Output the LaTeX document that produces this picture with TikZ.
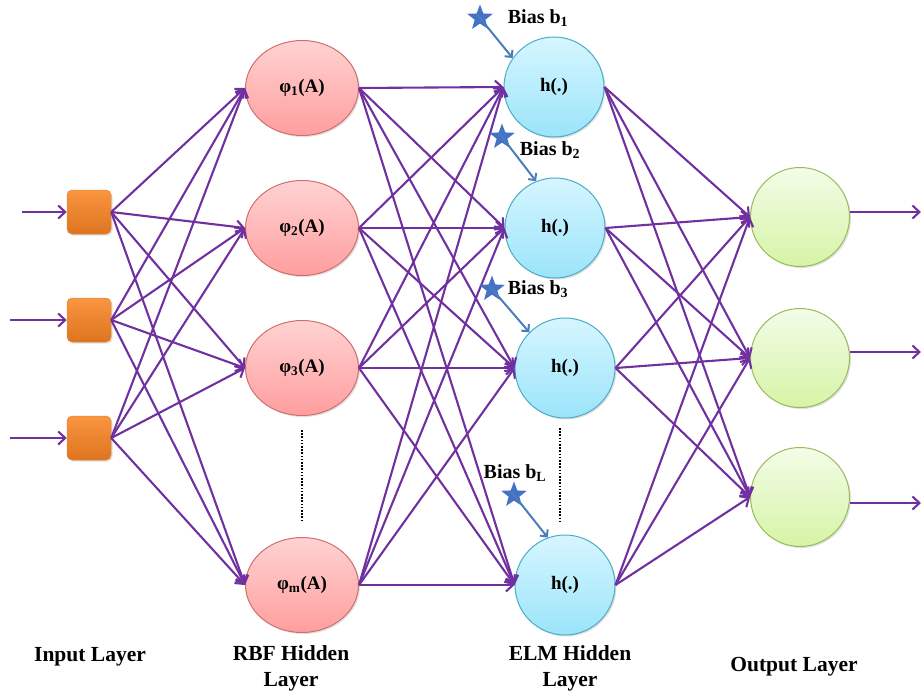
\documentclass[tikz,border=0pt]{standalone}
\usepackage{fontspec}
\setmainfont{Liberation Serif}
\usetikzlibrary{arrows.meta,shapes.geometric,shadows}
\definecolor{purp}{HTML}{7030A0}
\definecolor{orgT}{HTML}{FA9540}
\definecolor{orgB}{HTML}{DD7420}
\definecolor{orgD}{HTML}{E08A40}
\definecolor{pinkT}{HTML}{FFD2D2}
\definecolor{pinkB}{HTML}{FF9E9E}
\definecolor{pinkD}{HTML}{D0706E}
\definecolor{cyanT}{HTML}{D6F6FF}
\definecolor{cyanB}{HTML}{9BE4FA}
\definecolor{cyanD}{HTML}{4BACC6}
\definecolor{grnT}{HTML}{F3FCE8}
\definecolor{grnB}{HTML}{D6F4A6}
\definecolor{grnD}{HTML}{9BBB59}
\definecolor{starblue}{HTML}{4472C4}
\definecolor{biasblue}{HTML}{4A7EBB}
\begin{document}
\begin{tikzpicture}[x=1pt,y=-1pt,
  shd/.style={drop shadow={opacity=0.25,shadow xshift=1.5pt,shadow yshift=-1.5pt}},
  inp/.style={rectangle,rounded corners=5pt,minimum size=44pt,inner sep=0pt,
    top color=orgT,bottom color=orgB,draw=orgD,line width=0.5pt,shd},
  rbf/.style={ellipse,minimum width=113pt,minimum height=95pt,inner sep=0pt,
    top color=pinkT,bottom color=pinkB,draw=pinkD,line width=1pt,shd,
    font=\bfseries\fontsize{19}{19}\selectfont},
  elm/.style={circle,minimum size=100pt,inner sep=0pt,
    top color=cyanT,bottom color=cyanB,draw=cyanD,line width=1pt,shd,
    font=\bfseries\fontsize{19}{19}\selectfont},
  outn/.style={circle,minimum size=99pt,inner sep=0pt,
    top color=grnT,bottom color=grnB,draw=grnD,line width=1pt,shd},
  conn/.style={draw=purp,line width=2.1pt,-{Straight Barb[length=7pt,width=13pt]}},
  biasstar/.style={star,star points=5,star point ratio=2.4,minimum size=27pt,inner sep=0pt,fill=starblue,draw=none},
  biasarr/.style={draw=biasblue,line width=2pt,shorten <=-4pt,-{Straight Barb[length=5pt,width=10pt]}},
  biastxt/.style={font=\bfseries\fontsize{20}{20}\selectfont,inner sep=0pt},
  lbl/.style={font=\bfseries\fontsize{21.5}{26}\selectfont,align=center,inner sep=0pt},
  dots/.style={draw=black,line width=2pt,dash pattern=on 1.6pt off 1.6pt}
]
\path[use as bounding box] (0,0) rectangle (922,693);

% input layer
\node[inp] (i1) at (89,212) {};
\node[inp] (i2) at (89,320) {};
\node[inp] (i3) at (89,438) {};
\coordinate (a1) at (22,212);
\coordinate (a2) at (10,320);
\coordinate (a3) at (10,438);

% RBF layer
\node[rbf] (r1) at (302,88) {φ\textsubscript{1}(A)};
\node[rbf] (r2) at (302,228) {φ\textsubscript{2}(A)};
\node[rbf] (r3) at (302,368) {φ\textsubscript{3}(A)};
\node[rbf] (r4) at (302,585) {φ\textsubscript{m}(A)};

% ELM layer
\node[elm] (h1) at (554,87) {h(.)};
\node[elm] (h2) at (555,228) {h(.)};
\node[elm] (h3) at (565,368) {h(.)};
\node[elm] (h4) at (565,585) {h(.)};

% output layer
\node[outn] (o1) at (800,217) {};
\node[outn] (o2) at (800,358) {};
\node[outn] (o3) at (800,497) {};
\coordinate (e1) at (921,212);
\coordinate (e2) at (921,352);
\coordinate (e3) at (921,503);
\coordinate (s1) at (850,212);
\coordinate (s2) at (850,352);
\coordinate (s3) at (850,503);

% connectors
\foreach \k in {1,2,3} \draw[conn] (a\k) -- (i\k.west);
\foreach \a in {1,2,3} \foreach \b in {1,2,3,4} \draw[conn] (i\a.east) -- (r\b.west);
\foreach \a in {1,2,3,4} \foreach \b in {1,2,3,4} \draw[conn] (r\a.east) -- (h\b.west);
\foreach \a in {1,2,3,4} \foreach \b in {1,2,3} \draw[conn] (h\a.east) -- (o\b.west);
\foreach \k in {1,2,3} \draw[conn] (s\k) -- (e\k);

% dotted continuation marks
\coordinate (d1) at (302,430);
\coordinate (d2) at (302,522);
\coordinate (d3) at (560,428);
\coordinate (d4) at (560,523);
\draw[dots] (d1) -- (d2);
\draw[dots] (d3) -- (d4);

% biases
\node[biasstar] (b1) at (480,18) {};
\node[biastxt] (t1) at (538,18) {Bias b\textsubscript{1}};
\draw[biasarr] (b1.center) -- (h1.145);
\node[biasstar] (b2) at (502,137) {};
\node[biastxt] (t2) at (550,150) {Bias b\textsubscript{2}};
\draw[biasarr] (b2.center) -- (h2.112);
\node[biasstar] (b3) at (492,289) {};
\node[biastxt] (t3) at (538,289) {Bias b\textsubscript{3}};
\draw[biasarr] (b3.center) -- (h3.135);
\node[biastxt] (t4) at (515,473) {Bias b\textsubscript{L}};
\node[biasstar] (b4) at (514,495) {};
\draw[biasarr] (b4.center) -- (h4.110);

% layer labels
\node[lbl] (L1) at (90,657) {Input Layer};
\node[lbl] (L2) at (291,668) {RBF Hidden\\Layer};
\node[lbl] (L3) at (570,668) {ELM Hidden\\Layer};
\node[lbl] (L4) at (794,667) {Output Layer};
\end{tikzpicture}
\end{document}
